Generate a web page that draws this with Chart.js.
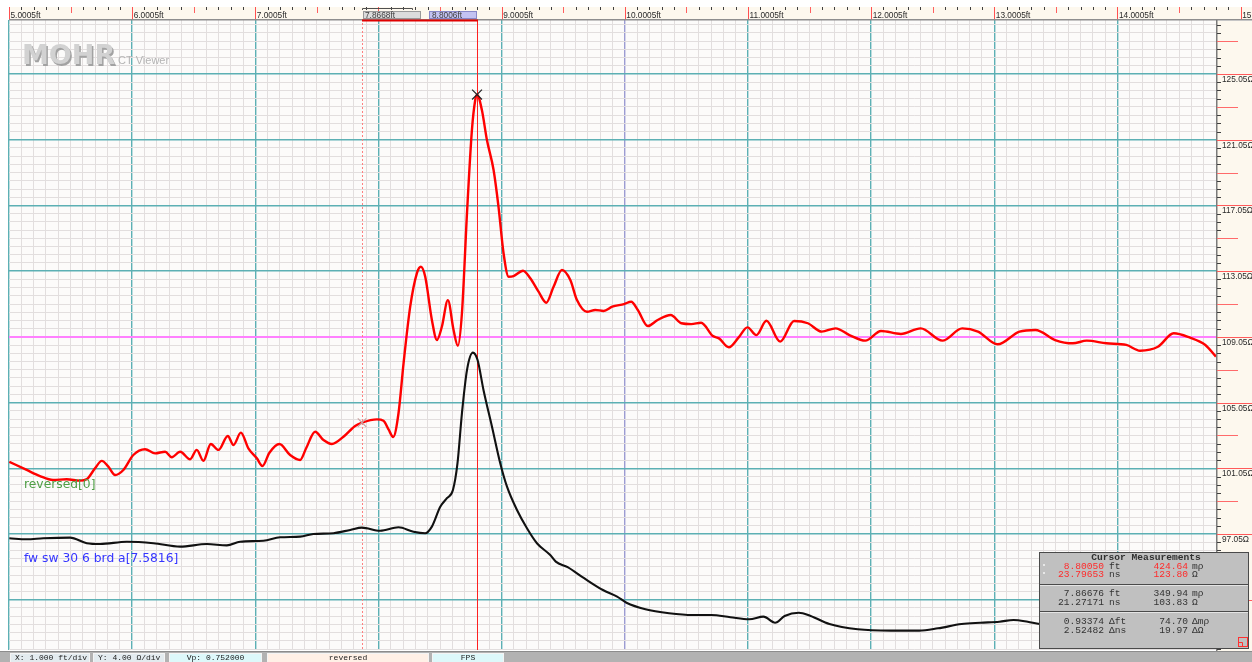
<!DOCTYPE html>
<html>
<head>
<meta charset="utf-8">
<title>MOHR CT Viewer</title>
<script src="https://cdn.jsdelivr.net/npm/chart.js@4.4.1/dist/chart.umd.min.js"></script>
<style>
  html, body { margin: 0; padding: 0; background: #fff; overflow: hidden; }
  #wrap { position: relative; width: 1252px; height: 662px; }
</style>
</head>
<body>
<div id="wrap"><canvas id="tdr"></canvas></div>
<script>
// distance (ft) and impedance (ohm) of the "reversed[0]" trace
const redFt = [5.003, 5.144, 5.252, 5.358, 5.469, 5.577, 5.634, 5.699, 5.754, 5.807, 5.862, 5.929,
  6.010, 6.105, 6.187, 6.268, 6.322, 6.390, 6.471, 6.525, 6.579, 6.639, 6.701, 6.777, 6.823, 6.883, 6.944,
  7.013, 7.058, 7.115, 7.196, 7.283, 7.364, 7.413, 7.486, 7.554, 7.622, 7.716, 7.811, 7.867, 7.988,
  8.041, 8.082, 8.120, 8.163, 8.204, 8.258, 8.312, 8.345, 8.380, 8.434, 8.475, 8.515, 8.564, 8.610,
  8.645, 8.678, 8.719, 8.759, 8.786, 8.8005, 8.840, 8.881, 8.935, 8.975,
  9.016, 9.057, 9.097, 9.174, 9.233, 9.300, 9.363, 9.422, 9.490, 9.558, 9.612, 9.693, 9.761, 9.828, 9.898, 9.994,
  10.052, 10.106, 10.187, 10.267, 10.373, 10.460, 10.540, 10.620, 10.716, 10.765, 10.845, 10.925, 10.996,
  11.069, 11.150, 11.262, 11.375, 11.487, 11.599, 11.712, 11.824, 11.953,
  12.081, 12.242, 12.403, 12.579, 12.740, 12.868, 13.028, 13.205, 13.334, 13.494, 13.638, 13.751, 13.911,
  14.072, 14.184, 14.329, 14.457, 14.585, 14.714, 14.800];
const redOhm = [101.45, 100.95, 100.58, 100.34, 100.38, 100.30, 100.40, 101.05, 101.50, 101.15, 100.64, 100.95,
  101.86, 102.21, 101.96, 102.06, 101.72, 102.06, 101.60, 102.17, 101.51, 102.53, 102.17, 103.02, 102.47, 103.22, 102.27,
  101.66, 101.19, 102.00, 102.53, 101.86, 101.56, 102.27, 103.28, 102.77, 102.53, 102.97, 103.63, 103.83, 104.03,
  103.95, 103.42, 102.96, 104.40, 107.44, 110.89, 112.92, 113.32, 112.71, 110.08, 108.86, 109.67, 111.29, 109.47,
  108.51, 110.49, 116.57, 121.64, 123.47, 123.80, 122.86, 121.03, 119.21, 116.97,
  114.14, 112.71, 112.75, 113.08, 112.62, 111.80, 111.13, 112.10, 113.12, 112.51, 111.29, 110.58, 110.69, 110.63, 110.89, 111.05,
  111.19, 110.69, 109.71, 110.08, 110.38, 109.88, 109.83, 109.91, 109.10, 108.96, 108.42, 109.02, 109.63,
  109.16, 110.03, 108.76, 110.02, 109.88, 109.37, 109.57, 109.16, 108.82,
  109.41, 109.23, 109.57, 108.82, 109.57, 109.37, 108.60, 109.37, 109.47, 108.86, 108.66, 108.82, 108.66,
  108.56, 108.21, 108.45, 109.27, 109.02, 108.56, 107.85];

// distance (ft) and impedance (ohm) of the "fw sw 30 6 brd a" trace
const blackFt = [5.003, 5.144, 5.279, 5.496, 5.632, 5.740, 5.957, 6.173, 6.390, 6.607, 6.769, 6.877,
  7.066, 7.202, 7.364, 7.472, 7.635, 7.771, 7.866, 8.014, 8.163, 8.285, 8.380, 8.434, 8.502, 8.556, 8.605,
  8.642, 8.678, 8.719, 8.767, 8.805, 8.853, 8.922, 8.989, 9.044, 9.125, 9.206, 9.287, 9.395, 9.440, 9.536,
  9.670, 9.823, 9.938, 10.014, 10.168, 10.360, 10.551, 10.704, 10.858, 11.011, 11.126, 11.221, 11.298,
  11.413, 11.509, 11.662, 11.892, 12.161, 12.391, 12.543, 12.735, 12.888, 13.042, 13.157, 13.272, 13.368,
  13.800, 14.800];
const blackOhm = [96.79, 96.73, 96.79, 96.83, 96.49, 96.44, 96.58, 96.49, 96.28, 96.44, 96.36, 96.58,
  96.64, 96.85, 96.89, 97.05, 97.10, 97.30, 97.44, 97.25, 97.46, 97.19, 97.10, 97.50, 98.71, 99.23, 99.73,
  101.36, 104.40, 107.03, 108.09, 107.64, 105.82, 103.58, 101.36, 99.93, 98.51, 97.40, 96.49, 95.77, 95.37, 95.03,
  94.36, 93.64, 93.24, 92.87, 92.47, 92.23, 92.12, 92.12, 91.98, 91.86, 92.02, 91.65, 92.06,
  92.26, 92.06, 91.57, 91.25, 91.17, 91.17, 91.31, 91.57, 91.65, 91.71, 91.82, 91.71, 91.57,
  91.45, 91.40];

// axis labels
const xTickValues = [5.0005, 6.0005, 7.0005, 8.0005, 9.0005, 10.0005, 11.0005, 12.0005, 13.0005, 14.0005, 15.0005];
const xTickLabels = ['5.0005ft', '6.0005ft', '7.0005ft', '8.0005ft', '9.0005ft', '10.0005ft', '11.0005ft',
  '12.0005ft', '13.0005ft', '14.0005ft', '15.0005ft'];
const yTickValues = [125.05, 121.05, 117.05, 113.05, 109.05, 105.05, 101.05, 97.05, 93.05];
const yTickLabels = ['125.05Ω', '121.05Ω', '117.05Ω', '113.05Ω', '109.05Ω', '105.05Ω', '101.05Ω', '97.05Ω', '93.05Ω'];

// cursors
const cursorA = { ft: 7.86676, ohm: 103.83, label: '7.8668ft' };
const cursorB = { ft: 8.8005, ohm: 123.80, label: '8.8006ft' };
const refOhm = 109.05;

// cursor measurement panel
const measTitle = 'Cursor Measurements';
const measLeft = [['8.80050', 'ft'], ['23.79653', 'ns'], ['7.86676', 'ft'], ['21.27171', 'ns'], ['0.93374', 'Δft'], ['2.52482', 'Δns']];
const measRight = [['424.64', 'mρ'], ['123.80', 'Ω'], ['349.94', 'mρ'], ['103.83', 'Ω'], ['74.70', 'Δmρ'], ['19.97', 'ΔΩ']];

// status bar
const statusItems = ['X: 1.000 ft/div', 'Y: 4.00 Ω/div', 'Vp: 0.752000', 'reversed', 'FPS'];

const X_MIN = 5.0005, X_MAX = 14.8005;
const Y_MIN = 89.99, Y_MAX = 128.34;

const xGrid = [];
for (let i = 0; i <= 98; i++) xGrid.push(+(X_MIN + i * 0.1).toFixed(4));
const yGrid = [];
for (let j = -6; j <= 70; j++) yGrid.push(+(125.05 - j * 0.5).toFixed(2));

const TEAL = '#5cb0b4', MINOR = '#e2dede', BG = '#fcfbfa', CREAM = '#fdf8ee';

const isMajorX = v => Math.round((v - X_MIN) * 10) % 10 === 0;
const isMajorY = v => { const j = Math.round((125.05 - v) * 2); return ((j % 8) + 8) % 8 === 0; };

const viewerPlugin = {
  id: 'viewer',
  beforeDraw(chart) {
    const { ctx, chartArea: a } = chart;
    ctx.save();
    ctx.fillStyle = '#fff';
    ctx.fillRect(0, 0, chart.width, chart.height);
    ctx.fillStyle = BG;
    ctx.fillRect(a.left, a.top, a.right - a.left, a.bottom - a.top);
    ctx.restore();
  },
  beforeDatasetsDraw(chart) {
    const { ctx, chartArea: a, scales: { x } } = chart;
    ctx.save();
    // logo
    ctx.font = 'bold 27px "DejaVu Sans"';
    ctx.textBaseline = 'alphabetic';
    ctx.fillStyle = '#a2a2a2';
    ctx.fillText('MOHR', 23.5, 65.5);
    ctx.fillStyle = '#d2d2d2';
    ctx.fillText('MOHR', 22, 64);
    ctx.font = '11px "Liberation Sans"';
    ctx.fillStyle = '#b4b4b4';
    ctx.fillText('CT Viewer', 118, 64);
    // cursor lines
    const pa = Math.round(x.getPixelForValue(cursorA.ft)) + 0.5;
    const pb = Math.round(x.getPixelForValue(cursorB.ft)) + 0.5;
    ctx.lineWidth = 1;
    ctx.strokeStyle = '#ff8080';
    ctx.setLineDash([2, 2]);
    ctx.beginPath(); ctx.moveTo(pa, 7); ctx.lineTo(pa, a.bottom); ctx.stroke();
    ctx.setLineDash([]);
    ctx.strokeStyle = '#ff2020';
    ctx.beginPath(); ctx.moveTo(pb, 7); ctx.lineTo(pb, a.bottom); ctx.stroke();
    ctx.restore();
  },
  afterDatasetsDraw(chart) {
    const { ctx, chartArea: a, scales: { x, y } } = chart;
    const W = chart.width;
    ctx.save();
    // trace names
    ctx.font = '12.3px "DejaVu Sans"';
    ctx.textBaseline = 'middle';
    ctx.fillStyle = '#4f9e45';
    ctx.fillText('reversed[0]', 24, 485);
    ctx.fillStyle = '#3535ff';
    ctx.fillText('fw sw 30 6 brd a[7.5816]', 24, 559);

    // top distance band
    ctx.fillStyle = CREAM;
    ctx.fillRect(a.left, 7, W - a.left, 12);
    ctx.lineWidth = 1;
    for (let i = 0; i <= 102; i++) {
      const v = X_MIN + i * 0.1;
      const px = Math.round(x.getPixelForValue(v)) + 0.5;
      if (px > W) break;
      ctx.beginPath();
      if (i % 10 === 0) { ctx.strokeStyle = '#ff5050'; ctx.moveTo(px, 7); ctx.lineTo(px, 19); }
      else if (i % 5 === 0) { ctx.strokeStyle = '#ff6060'; ctx.moveTo(px, 7); ctx.lineTo(px, 13); }
      else { ctx.strokeStyle = '#404040'; ctx.moveTo(px, 7); ctx.lineTo(px, 10); }
      ctx.stroke();
    }
    ctx.font = '8.3px "Liberation Sans"';
    ctx.textBaseline = 'alphabetic';
    ctx.fillStyle = '#2a2a2a';
    xTickValues.forEach((v, k) => {
      const px = x.getPixelForValue(v);
      ctx.fillText(xTickLabels[k], px + 1.5, 18.3);
    });
    // cursor tags on the band
    const pa = Math.round(x.getPixelForValue(cursorA.ft));
    const pb = Math.round(x.getPixelForValue(cursorB.ft));
    ctx.fillStyle = '#dcdcdc';
    ctx.fillRect(pa + 1, 11, 58, 8);
    ctx.strokeStyle = '#9a9a9a';
    ctx.strokeRect(pa + 1.5, 11.5, 57, 7);
    ctx.fillStyle = '#c3c3f2';
    ctx.fillRect(pb - 48, 11, 48, 8);
    ctx.strokeStyle = '#8888c8';
    ctx.strokeRect(pb - 47.5, 11.5, 47, 7);
    ctx.fillStyle = '#404040';
    ctx.fillText(cursorA.label, pa + 3, 18.3);
    ctx.fillText(cursorB.label, pb - 45, 18.3);
    ctx.strokeStyle = '#505050';
    ctx.beginPath();
    ctx.moveTo(pa + 0.5, 10); ctx.lineTo(pa + 0.5, 8.5); ctx.lineTo(pa + 50.5, 8.5); ctx.lineTo(pa + 50.5, 10);
    ctx.stroke();
    ctx.fillStyle = '#8e8e8e';
    ctx.fillRect(a.left, 19, W - a.left, 1.5);
    ctx.fillStyle = '#e00000';
    ctx.fillRect(pa, 19.5, pb - pa + 1, 2);

    // right impedance band
    ctx.fillStyle = CREAM;
    ctx.fillRect(a.right + 1, a.top + 1, W - a.right, a.bottom - a.top);
    ctx.fillStyle = '#7a7a7a';
    ctx.fillRect(a.right, a.top, 1.5, a.bottom - a.top + 1);
    yGrid.forEach(v => {
      const py = Math.round(y.getPixelForValue(v)) + 0.5;
      if (py < a.top + 1 || py > a.bottom) return;
      const j = Math.round((125.05 - v) * 2);
      ctx.beginPath();
      if (isMajorY(v)) { ctx.strokeStyle = '#ff5a5a'; ctx.moveTo(a.right + 1, py); ctx.lineTo(W, py); }
      else if (((j % 4) + 4) % 4 === 0) { ctx.strokeStyle = '#ff6a6a'; ctx.moveTo(a.right + 1, py); ctx.lineTo(a.right + 22, py); }
      else { ctx.strokeStyle = '#404040'; ctx.moveTo(a.right + 1, py); ctx.lineTo(a.right + 5, py); }
      ctx.stroke();
    });
    ctx.fillStyle = '#2a2a2a';
    ctx.font = '8.3px "Liberation Sans"';
    yTickValues.forEach((v, k) => {
      const py = y.getPixelForValue(v);
      ctx.fillText(yTickLabels[k], a.right + 6, py + 8);
    });

    // status bar
    ctx.fillStyle = '#b2b2b2';
    ctx.fillRect(0, a.bottom + 1, W, chart.height - a.bottom);
    ctx.fillStyle = '#8c8c8c';
    ctx.fillRect(0, a.bottom + 1, W, 1);
    const boxes = [[10, 80, '#e3ebef', 'left'], [93, 72, '#e3ebef', 'left'], [169, 93, '#ddf8fa', 'center'],
      [267, 162, '#fff0e6', 'center'], [432, 72, '#ddf8fa', 'center']];
    ctx.font = '8px "Liberation Mono"';
    ctx.textBaseline = 'middle';
    boxes.forEach((b, k) => {
      ctx.fillStyle = b[2];
      ctx.fillRect(b[0], 653, b[1], 9);
      ctx.strokeStyle = '#f4f4f4';
      ctx.strokeRect(b[0] + 0.5, 653.5, b[1] - 1, 9);
      ctx.fillStyle = '#1a1a1a';
      ctx.textAlign = b[3];
      const tx = b[3] === 'left' ? b[0] + 5 : b[0] + b[1] / 2;
      ctx.fillText(statusItems[k], tx, 658);
    });
    ctx.textAlign = 'left';

    // cursor measurement panel
    const bx = 1039, by = 552, bw = 210, bh = 97;
    ctx.fillStyle = '#c0c0c0';
    ctx.fillRect(bx, by, bw, bh);
    ctx.strokeStyle = '#4a4a4a';
    ctx.lineWidth = 1;
    ctx.strokeRect(bx + 0.5, by + 0.5, bw - 1, bh - 1);
    [584, 611].forEach(yy => {
      ctx.fillStyle = '#4a4a4a'; ctx.fillRect(bx + 1, yy, bw - 2, 1);
      ctx.fillStyle = '#e4e4e4'; ctx.fillRect(bx + 1, yy + 1, bw - 2, 1);
    });
    ctx.font = 'bold 9.6px "Liberation Mono"';
    ctx.textAlign = 'center';
    ctx.fillStyle = '#303030';
    ctx.fillText(measTitle, 1146, 558);
    ctx.font = '9.6px "Liberation Mono"';
    const rowY = [566, 574.7, 593.3, 602.3, 621.3, 630];
    rowY.forEach((ry, r) => {
      const col = r < 2 ? '#ff2a2a' : '#333333';
      ctx.textAlign = 'right';
      ctx.fillStyle = col;
      ctx.fillText(measLeft[r][0], 1104, ry);
      ctx.fillText(measRight[r][0], 1188, ry);
      ctx.textAlign = 'left';
      ctx.fillStyle = '#333333';
      ctx.fillText(measLeft[r][1], 1109, ry);
      ctx.fillText(measRight[r][1], 1192, ry);
    });
    ctx.fillStyle = '#e8e8e8';
    ctx.fillRect(1043, 564, 2, 2);
    ctx.fillRect(1043, 572, 2, 2);
    ctx.strokeStyle = '#ff3030';
    ctx.strokeRect(1238.5, 637.5, 9, 9);
    ctx.beginPath();
    ctx.moveTo(1238.5, 642.5); ctx.lineTo(1242.5, 642.5); ctx.lineTo(1242.5, 646.5);
    ctx.stroke();
    ctx.restore();
  }
};

const toXY = (xs, ys) => xs.map((v, i) => ({ x: v, y: ys[i] }));

new Chart(document.getElementById('tdr'), {
  type: 'line',
  data: {
    datasets: [
      {
        label: 'peak',
        data: [{ x: cursorB.ft, y: cursorB.ohm }],
        showLine: false,
        pointStyle: 'crossRot',
        pointRadius: 7,
        borderColor: '#222',
        borderWidth: 1.2
      },
      {
        label: 'cursorA',
        data: [{ x: cursorA.ft, y: cursorA.ohm }],
        showLine: false,
        pointStyle: 'crossRot',
        pointRadius: 6,
        borderColor: '#c9a4a4',
        borderWidth: 1.2
      },
      {
        label: 'reversed[0]',
        data: toXY(redFt, redOhm),
        borderColor: '#ff0000',
        borderWidth: 2.4,
        pointRadius: 0,
        cubicInterpolationMode: 'monotone'
      },
      {
        label: 'fw sw 30 6 brd a[7.5816]',
        data: toXY(blackFt, blackOhm),
        borderColor: '#111111',
        borderWidth: 2.1,
        pointRadius: 0,
        cubicInterpolationMode: 'monotone'
      }
    ]
  },
  options: {
    responsive: true,
    maintainAspectRatio: false,
    animation: false,
    events: [],
    layout: { padding: { left: 9, top: 20, right: 36, bottom: 12 } },
    plugins: { legend: { display: false }, tooltip: { enabled: false } },
    scales: {
      x: {
        type: 'linear',
        min: X_MIN,
        max: X_MAX,
        ticks: { display: false },
        border: { display: false },
        afterBuildTicks: s => { s.ticks = xGrid.map(v => ({ value: v })); },
        grid: {
          drawTicks: false,
          lineWidth: c => (c.tick && isMajorX(c.tick.value) ? 1.4 : 1),
          color: c => {
            const v = c.tick ? c.tick.value : 0;
            if (Math.abs(v - 10.0005) < 1e-6) return '#9c9cd2';
            return isMajorX(v) ? TEAL : MINOR;
          }
        }
      },
      y: {
        type: 'linear',
        min: Y_MIN,
        max: Y_MAX,
        ticks: { display: false },
        border: { display: false },
        afterBuildTicks: s => { s.ticks = yGrid.map(v => ({ value: v })); },
        grid: {
          drawTicks: false,
          lineWidth: c => {
            const v = c.tick ? c.tick.value : 0;
            if (Math.abs(v - refOhm) < 1e-6) return 2;
            return isMajorY(v) ? 1.4 : 1;
          },
          color: c => {
            const v = c.tick ? c.tick.value : 0;
            if (Math.abs(v - refOhm) < 1e-6) return '#ff80ff';
            return isMajorY(v) ? TEAL : MINOR;
          }
        }
      }
    }
  },
  plugins: [viewerPlugin]
});
</script>
</body>
</html>
